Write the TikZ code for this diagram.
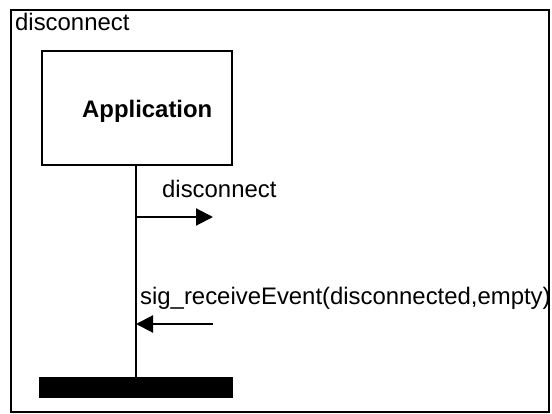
\documentclass[tikz,border=0pt]{standalone}
\usepackage{fontspec}
\setmainfont{Liberation Sans}
\usetikzlibrary{arrows.meta}
\begin{document}
\begin{tikzpicture}[x=1pt,y=-1pt,
  every node/.style={font=\fontsize{23.9}{28}\selectfont, inner sep=0pt},
  frame/.style={draw, line width=2.2pt},
  objbox/.style={draw, line width=2.2pt, minimum width=190pt, minimum height=114pt},
  stopbar/.style={fill=black, minimum width=194pt, minimum height=21pt},
  lifeline/.style={line width=2.3pt},
  msg/.style={line width=2.1pt, -{Triangle[length=17pt,width=17pt]}},
  lbl/.style={anchor=base west}
]
\useasboundingbox (0,0) rectangle (552,414);
% diagram frame
\draw[frame] (11,10) rectangle (549,412);
\node[lbl] (title) at (15,31) {disconnect};
% instance head and stop bar
\node[objbox] (app) at (137,108) {};
\node[lbl,font=\fontsize{23.9}{28}\selectfont\bfseries] (appname) at (82,118) {Application};
\node[stopbar] (bar) at (136,387.5) {};
% lifeline
\draw[lifeline] (app.south -| bar.north) -- (bar.north);
% messages
\coordinate (m1s) at (136,217);
\coordinate (m1e) at (213,217);
\coordinate (m2s) at (213,324);
\coordinate (m2e) at (136,324);
\draw[msg] (m1s) -- (m1e);
\node[lbl] (m1) at (162,198) {disconnect};
\draw[msg] (m2s) -- (m2e);
\node[lbl] (m2) at (140,305) {sig\_receiveEvent(disconnected,empty)};
\end{tikzpicture}
\end{document}
